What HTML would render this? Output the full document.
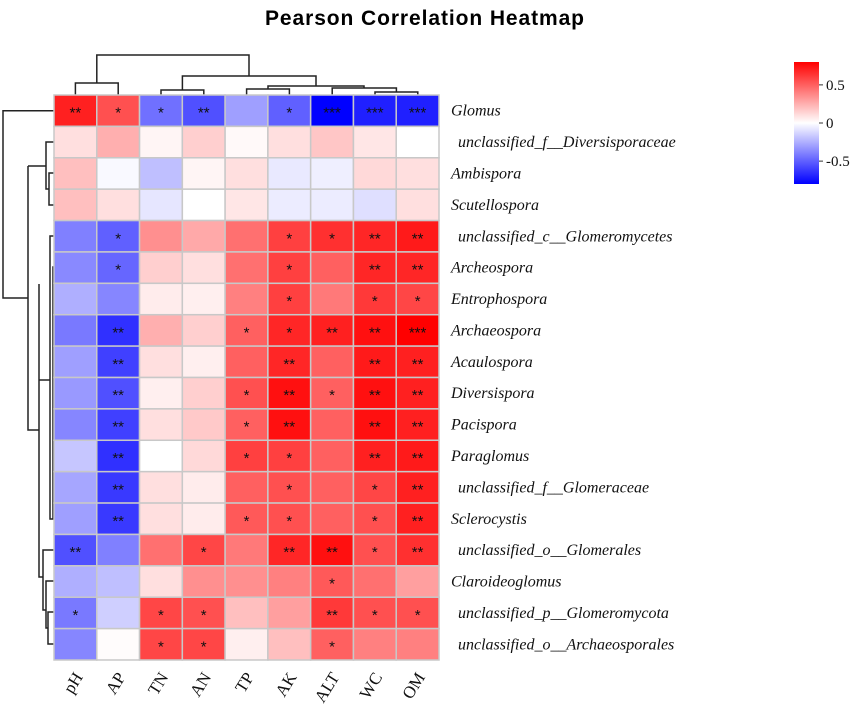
<!DOCTYPE html>
<html><head><meta charset="utf-8"><style>
html,body{margin:0;padding:0;background:#fff;}
svg{display:block;}
</style></head><body>
<svg id="chart" width="851" height="706" xmlns="http://www.w3.org/2000/svg">
<text x="265" y="25" font-family="Liberation Sans, sans-serif" font-weight="bold" font-size="21" textLength="319">Pearson Correlation Heatmap</text>
<g id="dendro" fill="none" stroke="#222" stroke-width="1.5">
<path d="M75.4,95V83H118.2V95 M161,95V90H203.8V95 M246.6,95V89H289.4V95 M375,95V92H417.8V95 M332.2,95V88H396.4V92 M268,89V86H364V88 M182.4,90V76H316V86 M96.8,83V55H249V76"/>
<path d="M54,110.7H3V298H28 M54,142H46V189H49 M54,173H49V205H54 M46,166H28 M28,166V430H39 M39,284V577H43 M54,236H50V519H53 M50,380H39 M54,267H53V519H54 M54,550H43V610H46 M54,581H46V628H48 M54,612H48V644H54"/>
</g>
<g id="cells"></g>
<g id="rowlabels"></g>
<g id="collabels"></g>
<defs><linearGradient id="lg" x1="0" y1="0" x2="0" y2="1"><stop offset="0" stop-color="#ff0000"/><stop offset="0.5" stop-color="#ffffff"/><stop offset="1" stop-color="#0000ff"/></linearGradient></defs>
<g>
<rect x="794" y="62" width="25" height="122" fill="url(#lg)"/>
<g id="legendticks"></g>
</g>
</svg>
<script>
const columns = ["pH","AP","TN","AN","TP","AK","ALT","WC","OM"];
const rows = ["Glomus","unclassified_f__Diversisporaceae","Ambispora","Scutellospora","unclassified_c__Glomeromycetes","Archeospora","Entrophospora","Archaeospora","Acaulospora","Diversispora","Pacispora","Paraglomus","unclassified_f__Glomeraceae","Sclerocystis","unclassified_o__Glomerales","Claroideoglomus","unclassified_p__Glomeromycota","unclassified_o__Archaeosporales"];
const values = [
[0.7,0.55,-0.45,-0.55,-0.3,-0.5,-0.8,-0.7,-0.7],
[0.1,0.25,0.03,0.15,0.02,0.1,0.18,0.08,0.0],
[0.2,-0.02,-0.2,0.03,0.1,-0.07,-0.05,0.12,0.1],
[0.2,0.1,-0.08,0.0,0.08,-0.06,-0.06,-0.1,0.1],
[-0.4,-0.5,0.35,0.27,0.45,0.6,0.65,0.68,0.72],
[-0.37,-0.48,0.15,0.1,0.45,0.6,0.5,0.68,0.68],
[-0.25,-0.38,0.06,0.05,0.4,0.6,0.42,0.62,0.58],
[-0.42,-0.65,0.25,0.15,0.5,0.68,0.7,0.75,0.8],
[-0.3,-0.6,0.1,0.05,0.5,0.68,0.5,0.72,0.7],
[-0.32,-0.55,0.05,0.15,0.55,0.75,0.5,0.75,0.7],
[-0.38,-0.6,0.1,0.17,0.5,0.75,0.5,0.75,0.7],
[-0.18,-0.65,0.0,0.12,0.6,0.6,0.5,0.7,0.72],
[-0.28,-0.62,0.1,0.06,0.5,0.55,0.5,0.58,0.7],
[-0.3,-0.62,0.1,0.06,0.52,0.55,0.5,0.55,0.7],
[-0.55,-0.4,0.45,0.58,0.42,0.68,0.75,0.55,0.65],
[-0.25,-0.2,0.1,0.35,0.35,0.4,0.52,0.45,0.3],
[-0.42,-0.15,0.58,0.55,0.2,0.3,0.62,0.55,0.55],
[-0.38,0.01,0.58,0.58,0.05,0.2,0.5,0.4,0.4]
];
const stars = [
["**","*","*","**","","*","***","***","***"],
["","","","","","","","",""],
["","","","","","","","",""],
["","","","","","","","",""],
["","*","","","","*","*","**","**"],
["","*","","","","*","","**","**"],
["","","","","","*","","*","*"],
["","**","","","*","*","**","**","***"],
["","**","","","","**","","**","**"],
["","**","","","*","**","*","**","**"],
["","**","","","*","**","","**","**"],
["","**","","","*","*","","**","**"],
["","**","","","","*","","*","**"],
["","**","","","*","*","","*","**"],
["**","","","*","","**","**","*","**"],
["","","","","","","*","",""],
["*","","*","*","","","**","*","*"],
["","","*","*","","","*","",""]
];
const legendTicks = [0.5,0,-0.5];
const indented = [1,4,12,14,16,17];

const NS="http://www.w3.org/2000/svg";
const X0=54,X1=439,Y0=95,Y1=660;
const cw=(X1-X0)/columns.length, rh=(Y1-Y0)/rows.length;
const xPos=i=>X0+i*cw, yPos=r=>Y0+r*rh;
const VMAX=0.8;
function color(v){
  let t=Math.max(-1,Math.min(1,v/VMAX));
  let r,g,b;
  if(t>=0){r=255;g=Math.round(255*(1-t));b=g;}else{b=255;r=Math.round(255*(1+t));g=r;}
  return `rgb(${r},${g},${b})`;
}
function mk(tag,attrs){const e=document.createElementNS(NS,tag);for(const k in attrs)e.setAttribute(k,attrs[k]);return e;}
const cells=document.getElementById('cells');
rows.forEach((rn,r)=>{
  columns.forEach((cn,c)=>{
    const rect=mk('rect',{x:xPos(c),y:yPos(r),width:cw,height:rh,fill:color(values[r][c]),stroke:'#c8c8c8','stroke-width':1.5});
    
    
    cells.appendChild(rect);
    if(stars[r][c]){
      const t=mk('text',{x:xPos(c)+cw/2,y:yPos(r)+rh/2+7,'text-anchor':'middle','font-family':'Liberation Sans, sans-serif','font-size':15,fill:'#111'});
      t.textContent=stars[r][c];
      
      
      cells.appendChild(t);
    }
  });
  const lab=mk('text',{x:indented.includes(r)?458:451,y:yPos(r)+rh/2+5,'font-family':'Liberation Serif, serif','font-style':'italic','font-size':16,fill:'#111'});
  lab.textContent=rn;
  
  
  document.getElementById('rowlabels').appendChild(lab);
});
columns.forEach((cn,c)=>{
  const x=xPos(c)+cw/2+8, y=Y1+17;
  const t=mk('text',{x:x,y:y,'text-anchor':'end','font-family':'Liberation Serif, serif','font-size':17,fill:'#111',transform:`rotate(-58 ${x} ${y})`});
  t.textContent=cn;
  
  
  document.getElementById('collabels').appendChild(t);
});
const lt=document.getElementById('legendticks');
const ly=v=>123-v*(61/VMAX);
legendTicks.forEach(v=>{
  const ln=mk('line',{x1:819,x2:823,y1:ly(v),y2:ly(v),stroke:'#333','stroke-width':1});
  
  
  lt.appendChild(ln);
  const t=mk('text',{x:826,y:ly(v)+5,'font-family':'Liberation Serif, serif','font-size':15,fill:'#111'});
  t.textContent=v;
  
  
  lt.appendChild(t);
});
</script>
</body></html>
